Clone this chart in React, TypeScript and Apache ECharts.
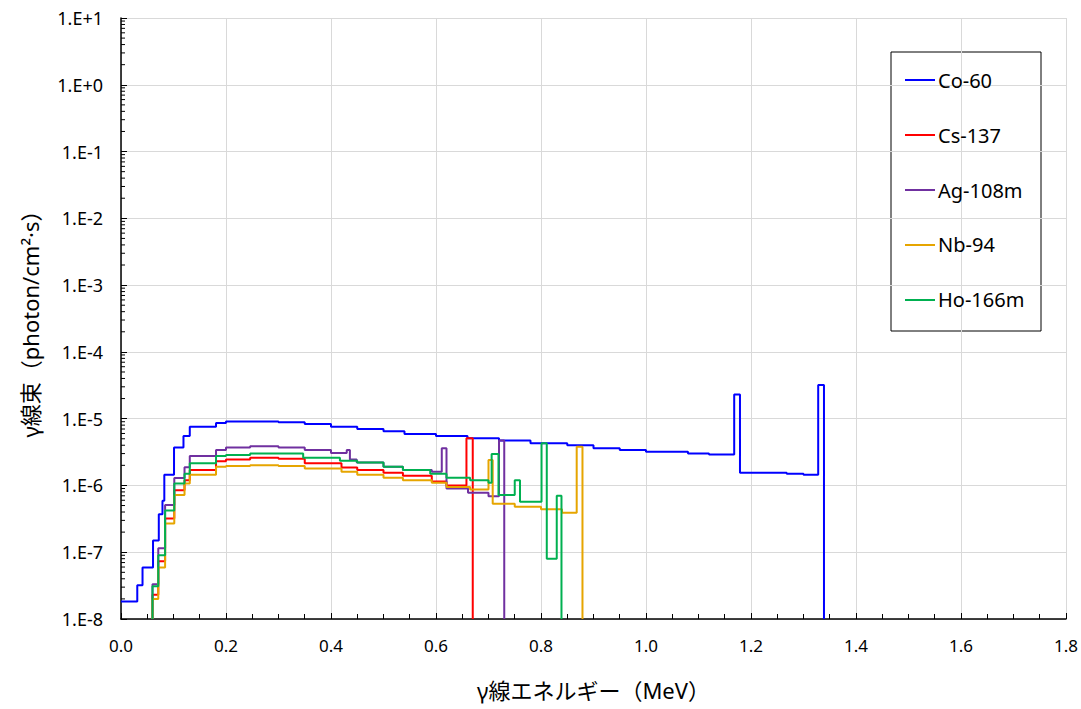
import React, { useEffect, useRef } from "react";
import * as echarts from "echarts";

// Bin edges (MeV) and flux values (photon/cm²·s) for each nuclide
const seriesNames = ["Co-60", "Cs-137", "Ag-108m", "Nb-94", "Ho-166m"];
const seriesColors = ["#0000FF", "#FF0000", "#7030A0", "#E6A500", "#00B050"];

const co60Edges = [0, 0.031, 0.041, 0.061, 0.072, 0.079, 0.0825, 0.101, 0.119, 0.131, 0.181, 0.2, 0.3, 0.35, 0.4, 0.45, 0.5, 0.54, 0.6, 0.66, 0.72, 0.78, 0.85, 0.9, 0.95, 1.0, 1.08, 1.12, 1.168, 1.179, 1.268, 1.3, 1.328, 1.339];
const co60Values = [1.83e-8, 3.2e-8, 5.9e-8, 1.5e-7, 3.7e-7, 5.9e-7, 1.44e-6, 3.7e-6, 5.5e-6, 7.6e-6, 8.6e-6, 9.1e-6, 8.8e-6, 8.3e-6, 7.6e-6, 7.0e-6, 6.5e-6, 5.9e-6, 5.5e-6, 5.1e-6, 4.7e-6, 4.3e-6, 4.0e-6, 3.6e-6, 3.4e-6, 3.2e-6, 3.0e-6, 2.9e-6, 2.3e-5, 1.55e-6, 1.5e-6, 1.45e-6, 3.2e-5];

const cs137Edges = [0.06, 0.071, 0.084, 0.1015, 0.121, 0.131, 0.181, 0.2, 0.246, 0.3, 0.35, 0.42, 0.45, 0.5, 0.537, 0.592, 0.62, 0.658, 0.67];
const cs137Values = [2.3e-8, 7.3e-8, 3.2e-7, 8.5e-7, 1.2e-6, 1.7e-6, 2.3e-6, 2.45e-6, 2.6e-6, 2.5e-6, 2.15e-6, 1.85e-6, 1.7e-6, 1.55e-6, 1.4e-6, 1.15e-6, 1.0e-6, 5.1e-6];

const ag108mEdges = [0.06, 0.071, 0.084, 0.1015, 0.121, 0.131, 0.181, 0.2, 0.246, 0.3, 0.35, 0.4, 0.43, 0.436, 0.449, 0.5, 0.537, 0.592, 0.611, 0.62, 0.661, 0.7, 0.72, 0.73];
const ag108mValues = [3.3e-8, 1.15e-7, 5.1e-7, 1.29e-6, 1.88e-6, 2.77e-6, 3.4e-6, 3.7e-6, 3.85e-6, 3.7e-6, 3.4e-6, 3.05e-6, 3.4e-6, 2.45e-6, 2.2e-6, 1.9e-6, 1.7e-6, 1.6e-6, 3.6e-6, 9.0e-7, 7.8e-7, 6.9e-7, 4.7e-6];

const nb94Edges = [0.06, 0.071, 0.084, 0.1015, 0.121, 0.131, 0.181, 0.2, 0.246, 0.3, 0.35, 0.42, 0.45, 0.5, 0.537, 0.592, 0.62, 0.665, 0.7, 0.708, 0.75, 0.8, 0.84, 0.868, 0.879];
const nb94Values = [2.0e-8, 5.9e-8, 2.7e-7, 7.2e-7, 1.07e-6, 1.45e-6, 1.9e-6, 1.95e-6, 2.0e-6, 1.95e-6, 1.8e-6, 1.6e-6, 1.45e-6, 1.3e-6, 1.2e-6, 1.1e-6, 9.5e-7, 8.7e-7, 2.4e-6, 5.3e-7, 4.8e-7, 4.4e-7, 3.9e-7, 3.8e-6];

const ho166mEdges = [0.06, 0.071, 0.084, 0.1015, 0.121, 0.131, 0.181, 0.2, 0.246, 0.347, 0.417, 0.45, 0.5, 0.537, 0.589, 0.62, 0.665, 0.7, 0.706, 0.719, 0.75, 0.76, 0.801, 0.811, 0.83, 0.839];
const ho166mValues = [3.1e-8, 9e-8, 4.2e-7, 1.07e-6, 1.5e-6, 2.15e-6, 2.77e-6, 2.85e-6, 3.0e-6, 2.6e-6, 2.35e-6, 2.2e-6, 1.9e-6, 1.7e-6, 1.5e-6, 1.3e-6, 1.2e-6, 1.1e-6, 2.95e-6, 7.2e-7, 1.2e-6, 5.7e-7, 4.3e-6, 8.0e-8, 7.0e-7];

const xMin = 0;
const xMax = 1.8;
const xInterval = 0.2;
const yMin = 1e-8;
const yMax = 10;
const minorFactors = [2, 3, 4, 5, 6, 7, 8, 9];

const allEdges = [co60Edges, cs137Edges, ag108mEdges, nb94Edges, ho166mEdges];
const allValues = [co60Values, cs137Values, ag108mValues, nb94Values, ho166mValues];
const startsAtFloor = [false, true, true, true, true];

function buildSteps(edges: number[], values: number[], fromFloor: boolean) {
  const pts: number[][] = [];
  if (fromFloor) pts.push([edges[0], yMin]);
  for (let i = 0; i < values.length; i++) pts.push([edges[i], values[i]]);
  pts.push([edges[edges.length - 1], yMin]);
  return pts;
}

const FONT = "'Noto Sans', 'Noto Sans CJK JP', sans-serif";

export default function App() {
  const ref = useRef<HTMLDivElement>(null);
  useEffect(() => {
    if (!ref.current) return;
    const chart = echarts.init(ref.current, undefined, { renderer: "svg" });

    const minorTickData: number[][] = [];
    for (let e = -8; e < 1; e++) {
      for (const f of minorFactors) minorTickData.push([0, f * Math.pow(10, e)]);
    }

    const lineSeries = seriesNames.map((name, k) => ({
      name,
      type: "line",
      step: "end",
      symbol: "none",
      data: buildSteps(allEdges[k], allValues[k], startsAtFloor[k]),
      lineStyle: { color: seriesColors[k], width: 2 },
      itemStyle: { color: seriesColors[k] },
      z: 3,
    }));

    const option: any = {
      animation: false,
      backgroundColor: "#ffffff",
      textStyle: { fontFamily: FONT },
      grid: { left: 121, right: 15, top: 18, bottom: 90, containLabel: false },
      legend: {
        orient: "vertical",
        left: 905,
        top: 70,
        padding: 0,
        itemWidth: 30,
        itemHeight: 14,
        itemGap: 35,
        icon: "path://M0,6 L30,6 L30,8 L0,8 Z",
        textStyle: { fontSize: 20, color: "#000", fontFamily: FONT, padding: [0, 0, 0, -2] },
        data: seriesNames,
      },
      graphic: [
        {
          type: "rect",
          shape: { x: 891, y: 52, width: 150, height: 279 },
          style: { fill: "#fff", stroke: "#000", lineWidth: 1 },
          z: 0,
        },
      ],
      xAxis: {
        type: "value",
        min: xMin,
        max: xMax,
        interval: xInterval,
        name: "γ線エネルギー（MeV）",
        nameLocation: "middle",
        nameGap: 60,
        nameTextStyle: { fontSize: 22, color: "#000", fontFamily: FONT },
        axisLine: { onZero: false, lineStyle: { color: "#000", width: 1.5 } },
        axisTick: { inside: true, length: 6, lineStyle: { color: "#000" } },
        minorTick: { show: true, splitNumber: 4, length: 5, lineStyle: { color: "#000" } },
        axisLabel: {
          fontSize: 17,
          color: "#000",
          margin: 18,
          formatter: (v: number) => v.toFixed(1),
        },
        splitLine: { show: true, lineStyle: { color: "#D9D9D9", width: 1 } },
      },
      yAxis: {
        type: "log",
        logBase: 10,
        min: yMin,
        max: yMax,
        name: "γ線束（photon/cm²·s）",
        nameLocation: "middle",
        nameGap: 80,
        nameRotate: 90,
        nameTextStyle: { fontSize: 22, color: "#000", fontFamily: FONT },
        axisLine: { show: true, lineStyle: { color: "#000", width: 1.5 } },
        axisTick: { show: true, inside: true, length: 6, lineStyle: { color: "#000" } },
        minorTick: { show: false },
        axisLabel: {
          fontSize: 18,
          color: "#000",
          margin: 18,
          formatter: (v: number) => {
            const e = Math.round(Math.log10(v));
            return "1.E" + (e >= 0 ? "+" : "") + e;
          },
        },
        splitLine: { show: true, lineStyle: { color: "#D9D9D9", width: 1 } },
      },
      series: [
        ...lineSeries,
        {
          type: "custom",
          name: "minorTicks",
          silent: true,
          z: 4,
          data: minorTickData,
          renderItem: (params: any, api: any) => {
            const p = api.coord([api.value(0), api.value(1)]);
            return {
              type: "line",
              shape: { x1: p[0], y1: p[1], x2: p[0] + 4, y2: p[1] },
              style: { stroke: "#000", lineWidth: 1 },
            };
          },
        },
      ],
    };
    chart.setOption(option);
    return () => chart.dispose();
  }, []);

  return (
    <div
      ref={ref}
      style={{ position: "fixed", left: 0, top: 0, width: 1081, height: 709 }}
    />
  );
}
